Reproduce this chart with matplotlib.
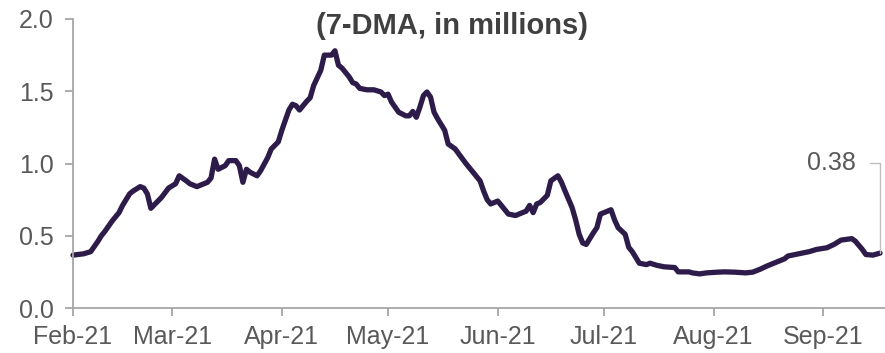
import matplotlib
matplotlib.use("Agg")
import matplotlib.pyplot as plt
import matplotlib.dates as mdates
import pandas as pd

plt.rcParams['font.family'] = ['Liberation Sans', 'DejaVu Sans']

# 7-day moving average, millions
dates = [
    "2021-02-01", "2021-02-04", "2021-02-06", "2021-02-08", "2021-02-09", "2021-02-10",
    "2021-02-12", "2021-02-14", "2021-02-15", "2021-02-17", "2021-02-18", "2021-02-20",
    "2021-02-21", "2021-02-22", "2021-02-23", "2021-02-26", "2021-02-28",
    "2021-03-02", "2021-03-03", "2021-03-05", "2021-03-06", "2021-03-08", "2021-03-09",
    "2021-03-11", "2021-03-12", "2021-03-13", "2021-03-14", "2021-03-16", "2021-03-17",
    "2021-03-19", "2021-03-20", "2021-03-21", "2021-03-22", "2021-03-23", "2021-03-25",
    "2021-03-26", "2021-03-28", "2021-03-29", "2021-03-31",
    "2021-04-01", "2021-04-03", "2021-04-04", "2021-04-05", "2021-04-06", "2021-04-08",
    "2021-04-09", "2021-04-10", "2021-04-12", "2021-04-13", "2021-04-15", "2021-04-16",
    "2021-04-17", "2021-04-18", "2021-04-20", "2021-04-21", "2021-04-22", "2021-04-23",
    "2021-04-25", "2021-04-27", "2021-04-29", "2021-04-30",
    "2021-05-01", "2021-05-02", "2021-05-04", "2021-05-06", "2021-05-07", "2021-05-08",
    "2021-05-09", "2021-05-10", "2021-05-11", "2021-05-12", "2021-05-13", "2021-05-14",
    "2021-05-15", "2021-05-17", "2021-05-18", "2021-05-20", "2021-05-21", "2021-05-23",
    "2021-05-25", "2021-05-27", "2021-05-28", "2021-05-29", "2021-05-30",
    "2021-06-01", "2021-06-03", "2021-06-04", "2021-06-06", "2021-06-08", "2021-06-09",
    "2021-06-10", "2021-06-11", "2021-06-12", "2021-06-13", "2021-06-15", "2021-06-16",
    "2021-06-18", "2021-06-19", "2021-06-20", "2021-06-22", "2021-06-23", "2021-06-24",
    "2021-06-25", "2021-06-26", "2021-06-28", "2021-06-29", "2021-06-30",
    "2021-07-02", "2021-07-03", "2021-07-04", "2021-07-05", "2021-07-07", "2021-07-08",
    "2021-07-09", "2021-07-11", "2021-07-13", "2021-07-14", "2021-07-16", "2021-07-18",
    "2021-07-21", "2021-07-22", "2021-07-25", "2021-07-26", "2021-07-28", "2021-07-30",
    "2021-08-02", "2021-08-04", "2021-08-07", "2021-08-10", "2021-08-12", "2021-08-14",
    "2021-08-16", "2021-08-19", "2021-08-21", "2021-08-22", "2021-08-25", "2021-08-28",
    "2021-08-30",
    "2021-09-02", "2021-09-04", "2021-09-06", "2021-09-09", "2021-09-10", "2021-09-12",
    "2021-09-13", "2021-09-15", "2021-09-17",
]
values = [
    0.366, 0.375, 0.39, 0.46, 0.50, 0.53,
    0.60, 0.66, 0.71, 0.79, 0.81, 0.84,
    0.83, 0.79, 0.69, 0.765, 0.83,
    0.86, 0.915, 0.88, 0.86, 0.84, 0.85,
    0.87, 0.90, 1.03, 0.96, 0.985, 1.02,
    1.02, 0.985, 0.87, 0.96, 0.94, 0.915,
    0.95, 1.04, 1.10, 1.15,
    1.23, 1.37, 1.41, 1.40, 1.37, 1.43,
    1.455, 1.54, 1.645, 1.75, 1.75, 1.78,
    1.68, 1.66, 1.60, 1.56, 1.55, 1.52,
    1.51, 1.51, 1.495, 1.47,
    1.48, 1.425, 1.355, 1.33, 1.33, 1.36,
    1.32, 1.39, 1.47, 1.495, 1.46, 1.355,
    1.31, 1.23, 1.135, 1.10, 1.066, 1.0,
    0.94, 0.88, 0.81, 0.75, 0.72,
    0.74, 0.68, 0.65, 0.64, 0.66, 0.67,
    0.71, 0.66, 0.72, 0.73, 0.78, 0.88,
    0.915, 0.87, 0.81, 0.695, 0.61, 0.51,
    0.45, 0.44, 0.52, 0.556, 0.65,
    0.67, 0.68, 0.61, 0.556, 0.51, 0.42,
    0.39, 0.31, 0.30, 0.31, 0.295, 0.285,
    0.28, 0.25, 0.25, 0.243, 0.236, 0.243,
    0.248, 0.25, 0.248, 0.243, 0.248, 0.267,
    0.29, 0.32, 0.34, 0.36, 0.375, 0.39,
    0.405,
    0.417, 0.44, 0.47, 0.48, 0.463, 0.405,
    0.37, 0.366, 0.38,
]
subtitle = "(7-DMA, in millions)"
y_ticks = [0.0, 0.5, 1.0, 1.5, 2.0]

x = pd.to_datetime(dates)

W, H = 885, 353
fig = plt.figure(figsize=(W / 100, H / 100), dpi=100)
ax = fig.add_axes([73 / W, 45 / H, (W - 73) / W, (308 - 19) / H])

line_color = "#2D1B4A"
ax.plot(x, values, color=line_color, lw=3.8, solid_capstyle="round",
        solid_joinstyle="round", clip_on=False)

ax.set_ylim(0, 2.0)
ax.set_yticks(y_ticks)
ax.yaxis.set_major_formatter(plt.FuncFormatter(lambda v, _: f"{v:.1f}"))
start = pd.Timestamp("2021-02-01")
ax.set_xlim(start, start + pd.Timedelta(days=229.4))
ax.xaxis.set_major_locator(mdates.MonthLocator())
ax.xaxis.set_major_formatter(mdates.DateFormatter("%b-%y"))

spine_color = "#A6A6A6"
for s in ("top", "right"):
    ax.spines[s].set_visible(False)
for s in ("left", "bottom"):
    ax.spines[s].set_color(spine_color)
    ax.spines[s].set_linewidth(1.3)
ax.tick_params(axis="both", colors=spine_color, length=6, width=1.3,
               labelcolor="#595959", labelsize=18)
ax.tick_params(axis="y", pad=8)
ax.tick_params(axis="x", pad=6)

# label for the latest value
ax.annotate(f"{values[-1]:.2f}", xy=(x[-1], values[-1]),
            xytext=(-35, 65), textcoords="offset points",
            ha="center", va="center", fontsize=18, color="#595959",
            annotation_clip=False,
            arrowprops=dict(arrowstyle="-", color="#BFBFBF", lw=1.0,
                            shrinkA=8, shrinkB=0,
                            connectionstyle="angle,angleA=0,angleB=90,rad=0"))

fig.text(452 / W, 1 - 26 / H, subtitle, ha="center", va="center",
         fontsize=21, fontweight="bold", color="#404040")

fig.savefig("out.png", dpi=100)
